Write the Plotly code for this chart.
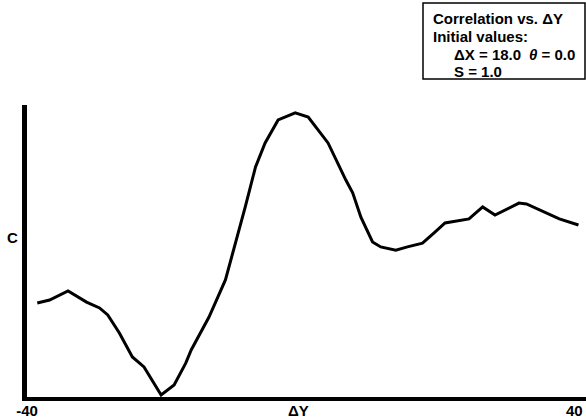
import plotly.graph_objects as go

# Data (ΔY vs correlation C, arbitrary units 0..1)
delta_y = [-38.5, -36.7, -34.0, -31.3, -29.4, -28.2, -26.5, -24.6, -22.9, -21.7,
           -20.4, -18.5, -16.8, -16.0, -13.4, -11.0, -9.5, -8.1, -6.6, -5.2,
           -3.3, -0.8, 1.1, 2.5, 4.0, 6.6, 7.6, 8.8, 10.5, 11.7,
           13.9, 15.6, 17.8, 19.5, 21.1, 24.6, 26.6, 28.4, 31.9, 33.0,
           34.9, 37.8, 40.6]
corr = [0.322, 0.332, 0.363, 0.325, 0.305, 0.281, 0.219, 0.137, 0.103, 0.058,
        0.007, 0.041, 0.116, 0.161, 0.274, 0.401, 0.527, 0.651, 0.788, 0.870,
        0.949, 0.973, 0.959, 0.914, 0.870, 0.743, 0.699, 0.616, 0.531, 0.514,
        0.503, 0.514, 0.527, 0.562, 0.596, 0.610, 0.651, 0.623, 0.664, 0.661,
        0.640, 0.610, 0.589]
x_ticks = [-40, 40]
x_tick_labels = ["-40", "40"]
x_title = "ΔY"
y_title = "C"
box_title = "Correlation vs. ΔY"
box_subtitle = "Initial values:"
box_dx = "ΔX = 18.0"
box_theta = "<i>θ</i> = 0.0"
box_s = "S = 1.0"

FONT = "Liberation Sans, Arial, sans-serif"
L, R, T, B = 27, 0, 105, 23
W, H = 586, 420
PW, PH = W - L - R, H - T - B


def px_x(p):
    return (p - L) / PW


def px_y(p):
    return (H - B - p) / PH


fig = go.Figure()
fig.add_trace(go.Scatter(x=delta_y, y=corr, mode="lines",
                         line=dict(color="black", width=3),
                         showlegend=False, hoverinfo="skip", cliponaxis=False))

fig.update_layout(
    width=W, height=H,
    margin=dict(l=L, r=R, t=T, b=B, autoexpand=False),
    paper_bgcolor="white", plot_bgcolor="white",
    font=dict(family=FONT, color="black", size=15),
    xaxis=dict(range=[-40, 41.7], showgrid=False, zeroline=False, automargin=False,
               showline=True, linecolor="black", linewidth=4,
               tickvals=x_ticks, ticktext=[f"<b>{t}</b>" for t in x_tick_labels],
               ticks="", tickfont=dict(size=15), ticklabelstandoff=-3),
    yaxis=dict(range=[0, 1], showgrid=False, zeroline=False, automargin=False,
               showline=True, linecolor="black", linewidth=5,
               showticklabels=False, ticks=""),
)


def label(text, x, y, size=15, xanchor="center"):
    fig.add_annotation(xref="paper", yref="paper", x=px_x(x), y=px_y(y),
                       text=f"<b>{text}</b>", showarrow=False, font=dict(size=size),
                       xanchor=xanchor, yanchor="middle")


# axis titles as plain text annotations (unrotated "C")
label(y_title, 12, 237)
label(x_title, 298, 410)

# info box
fig.add_shape(type="rect", xref="paper", yref="paper",
              x0=px_x(423), x1=px_x(585), y0=px_y(79), y1=px_y(3),
              line=dict(color="black", width=1.5), fillcolor="white")
label(box_title, 431, 18, 15, "left")
label(box_subtitle, 431, 36, 15, "left")
label(box_dx, 452, 54, 15, "left")
label(box_theta, 527, 54, 15, "left")
label(box_s, 452, 71, 15, "left")

fig.write_html("out.html", config={"displayModeBar": False},
               post_script="document.body.style.margin='0';")
